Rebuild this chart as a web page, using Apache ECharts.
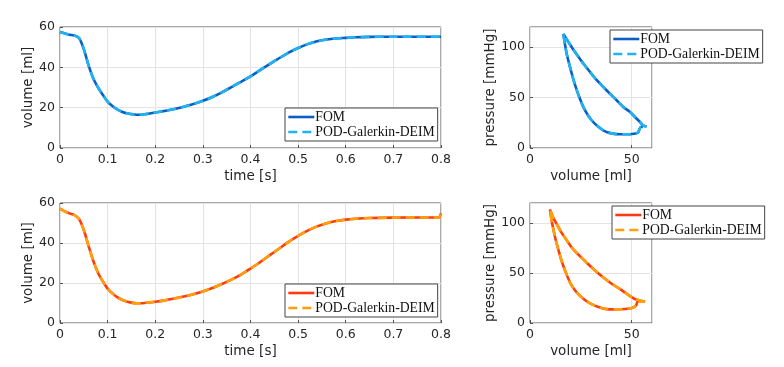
<!DOCTYPE html>
<html><head><meta charset="utf-8">
<script src="https://cdn.jsdelivr.net/npm/echarts@6/dist/echarts.min.js"></script>
<style>html,body{margin:0;padding:0;background:#fff}#c{width:784px;height:367px}</style>
</head><body><div id="c"></div>
<script>
// ---- data ----
const timeTop = [0,0.01,0.02,0.03,0.04,0.05,0.06,0.07,0.08,0.09,0.10,0.11,0.12,0.13,0.14,0.15,0.16,0.17,0.18,0.20,0.22,0.24,0.26,0.28,0.30,0.32,0.34,0.36,0.38,0.40,0.42,0.44,0.46,0.48,0.50,0.52,0.54,0.56,0.58,0.60,0.62,0.65,0.70,0.80];
const volTopFOM = [57.5,56.8,56.2,55.8,54.5,49,41,34.5,30,26.3,23,20.8,19.2,18,17.2,16.8,16.5,16.5,16.8,17.6,18.4,19.3,20.5,21.8,23.4,25.3,27.6,30.2,32.8,35.5,38.6,41.6,44.5,47.3,49.6,51.5,52.9,53.8,54.3,54.6,54.9,55.1,55.2,55.2];
const volTopPOD = [57.5,56.8,56.2,55.8,54.5,49,41,34.5,30,26.3,23,20.8,19.2,18,17.2,16.8,16.5,16.5,16.8,17.6,18.4,19.3,20.5,21.8,23.4,25.3,27.6,30.2,32.8,35.5,38.6,41.6,44.5,47.3,49.6,51.5,52.9,53.8,54.3,54.6,54.9,55.1,55.2,55.2];

const timeBot = [0,0.01,0.02,0.03,0.04,0.05,0.06,0.07,0.08,0.09,0.10,0.11,0.12,0.13,0.14,0.15,0.16,0.17,0.18,0.20,0.22,0.24,0.26,0.28,0.30,0.32,0.34,0.36,0.38,0.40,0.42,0.44,0.46,0.48,0.50,0.52,0.54,0.56,0.58,0.60,0.62,0.65,0.70,0.795,0.80];
const volBotFOM = [57.2,55.8,54.8,54,52,46.5,38.5,31,25,20.8,17.2,14.8,12.9,11.6,10.8,10.2,9.9,9.9,10.1,10.6,11.3,12.2,13.2,14.4,15.8,17.5,19.5,21.7,24.2,27.2,30.4,33.8,37.2,40.6,43.6,46.2,48.3,49.9,51,51.7,52.1,52.5,52.7,52.8,54.8];
const volBotPOD = [57.2,55.8,54.8,54,52,46.5,38.5,31,25,20.8,17.2,14.8,12.9,11.6,10.8,10.2,9.9,9.9,10.1,10.6,11.3,12.2,13.2,14.4,15.8,17.5,19.5,21.7,24.2,27.2,30.4,33.8,37.2,40.6,43.6,46.2,48.3,49.9,51,51.7,52.1,52.5,52.7,52.8,54.8];

const pvTopVol = [57.3,55.5,54.1,51.5,49.2,46,42.6,39.5,36,32.5,29.5,26.5,23.8,21.2,18.8,16.4,17.2,18.0,19.2,20.5,21.7,23,24.5,26.2,28.2,30.3,33,36,39,42.6,46,49.2,52,53.3,54.4,55.5];
const pvTopPres = [21.0,22.5,25.8,31,35.8,40.5,47.4,53.5,60.6,68,75.5,83,90.5,98,105.4,113,103,93.8,84,74,65.5,57.4,49,40.8,33.5,27.5,22,17.6,15,13.8,13.6,13.7,14.3,15.9,20.9,20.8];

const pvBotVol = [56.6,54.5,51.6,48,44.3,40,36.1,32,27.9,24.5,21.3,18.3,15.6,13.4,11.5,9.8,10.6,11.5,12.6,13.9,15.1,16.4,18,19.7,22,24.6,27.3,30.3,34,37.7,41,44.3,48,50.8,52.3,52.8,54.8];
const pvBotPres = [21.2,22.3,23.9,28.5,33.8,39.5,45.4,52.5,60.3,67,73.6,82,90.1,98,105,113.4,103,93.5,83.5,73.6,65,57,48.5,40.4,33,27.2,22.5,18.9,15.8,13.9,13.6,13.7,14.2,15.5,18,21.2,21.2];

const names = ['FOM','POD-Galerkin-DEIM'];
const timeTicks = {min:0,max:0.8,interval:0.1};
const volTicks = {min:0,max:60,interval:20};
const pvVolTicks = {min:0,max:60,interval:50};
const presTicks = {min:0,max:120,interval:50};

// ---- helpers ----
const zip = (a,b)=>a.map((v,i)=>[v,b[i]]);
const pad = (s,n)=>s+' '.repeat(n);
const cTopA='#0d5ec4', cTopB='#1eb4f2', cBotA='#ff3a12', cBotB='#ffa008';
const txt='#262626';
const sans='DejaVu Sans';
const isMult = t=>Math.abs(t.max/t.interval-Math.round(t.max/t.interval))<1e-6;

const grids = [
  {left:60, top:27, width:381, height:121},
  {left:530,top:27, width:122, height:121},
  {left:60, top:203,width:381, height:120},
  {left:530,top:203,width:122, height:120}
].map(g=>Object.assign(g,{show:true,borderColor:'#555',borderWidth:1,backgroundColor:'#fff'}));

function ax(i,t,name,gap){
  return Object.assign({type:'value',gridIndex:i,name:name,nameLocation:'middle',nameGap:gap,
    nameTextStyle:{color:txt,fontFamily:sans,fontSize:13.5},
    axisLine:{show:false},axisTick:{show:true,inside:true,length:3,lineStyle:{color:'#555'}},
    axisLabel:{color:txt,fontFamily:sans,fontSize:12.5,margin:5,showMaxLabel:isMult(t)},
    splitLine:{show:true,lineStyle:{color:'#e3e3e3',width:1}}},t);
}

function ser(name,idx,data,color,dashed,sm){
  return {type:'line',name:name,xAxisIndex:idx,yAxisIndex:idx,data:data,showSymbol:false,symbol:'none',
    smooth:sm,animation:false,
    lineStyle:{color:color,width:2.6,type:dashed?[9,5]:'solid'},itemStyle:{color:color}};
}

const series = [
  ser(pad(names[0],0),0,zip(timeTop,volTopFOM),cTopA,false,0.3),
  ser(pad(names[1],0),0,zip(timeTop,volTopPOD),cTopB,true,0.3),
  ser(pad(names[0],1),1,zip(pvTopVol,pvTopPres),cTopA,false,0.2),
  ser(pad(names[1],1),1,zip(pvTopVol,pvTopPres),cTopB,true,0.2),
  ser(pad(names[0],2),2,zip(timeBot,volBotFOM),cBotA,false,0.3),
  ser(pad(names[1],2),2,zip(timeBot,volBotPOD),cBotB,true,0.3),
  ser(pad(names[0],3),3,zip(pvBotVol,pvBotPres),cBotA,false,0.2),
  ser(pad(names[1],3),3,zip(pvBotVol,pvBotPres),cBotB,true,0.2)
];

function leg(k,left,top){
  return {show:true,orient:'vertical',left:left,top:top,data:[pad(names[0],k),pad(names[1],k)],
    formatter:n=>n.trim(),itemWidth:26,itemHeight:12,itemGap:1,padding:[2,3,2,2],
    itemStyle:{opacity:0},lineStyle:{width:2.6,type:'inherit'},
    borderColor:'#444',borderWidth:1,backgroundColor:'#fff',selectedMode:false,
    textStyle:{fontFamily:'Liberation Serif',fontSize:13.7,color:'#111',padding:[0,0,0,-4]}};
}

const chart = echarts.init(document.getElementById('c'),null,{renderer:'canvas'});
chart.setOption({
  animation:false,
  grid:grids,
  xAxis:[ax(0,timeTicks,'time [s]',21),ax(1,pvVolTicks,'volume [ml]',21),ax(2,timeTicks,'time [s]',21),ax(3,pvVolTicks,'volume [ml]',21)],
  yAxis:[ax(0,volTicks,'volume [ml]',22),ax(1,presTicks,'pressure [mmHg]',30),ax(2,volTicks,'volume [ml]',22),ax(3,presTicks,'pressure [mmHg]',30)],
  legend:[leg(0,285,108),leg(1,610,30),leg(2,285,284),leg(3,612,206)],
  series:series
});
</script></body></html>
